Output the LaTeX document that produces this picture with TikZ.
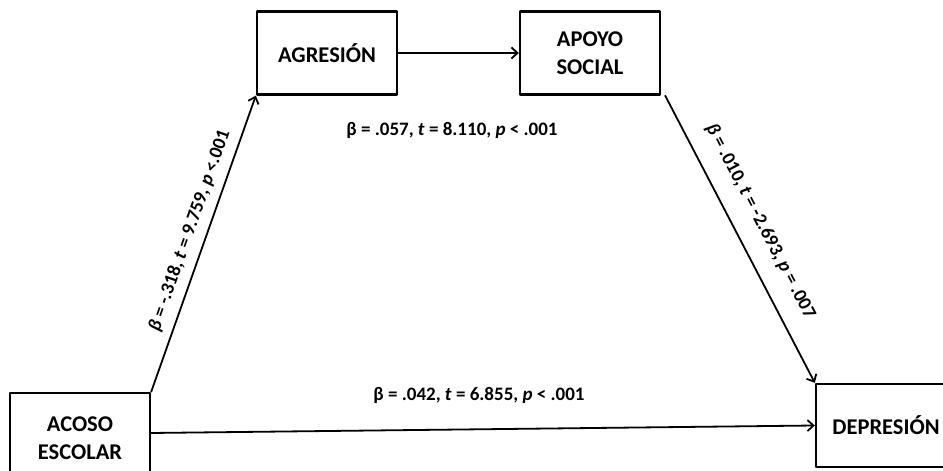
\documentclass[tikz,border=0pt]{standalone}
\usepackage{fontspec}
\setmainfont{Carlito}
\usetikzlibrary{arrows.meta}

\begin{document}
\begin{tikzpicture}[line cap=round,line join=round,>={Straight Barb[length=6pt,width=11pt]},x=1pt,y=1pt,
  caja/.style={draw,line width=2.4pt,minimum width=140pt,minimum height=83pt,align=center,font=\bfseries\fontsize{22.5}{28}\selectfont},
  coef/.style={font=\bfseries\fontsize{19}{22}\selectfont},
  flecha/.style={->,line width=1.8pt}]
\useasboundingbox (0,0) rectangle (943,471);
\node[caja,minimum height=90pt] (acoso) at (80,33) {ACOSO\\ESCOLAR};
\node[caja] (agresion) at (327,418) {AGRESIÓN};
\node[caja] (apoyo) at (590,418) {APOYO\\SOCIAL};
\node[caja] (depresion) at (886,45.5) {DEPRESIÓN};
\draw[flecha] (acoso.north east) -- node[coef,sloped,above=5pt,pos=0.525] {\textit{β} = -.318, \textit{t} = 9.759, \textit{p} <.001} (agresion.south west);
\draw[flecha] (agresion) -- (apoyo);
\draw[flecha] ([xshift=4pt]apoyo.south east) -- node[coef,sloped,above=14pt,pos=0.48] {\textit{β} = .010, \textit{t} = -2.693, \textit{p} = .007} (depresion.north west);
\draw[flecha] ([yshift=5pt]acoso.east) -- (depresion.west);
\node[coef] (med) at (452,341) {β = .057, \textit{t} = 8.110, \textit{p} < .001};
\node[coef] (dir) at (479,76) {β = .042, \textit{t} = 6.855, \textit{p} < .001};
\end{tikzpicture}
\end{document}
